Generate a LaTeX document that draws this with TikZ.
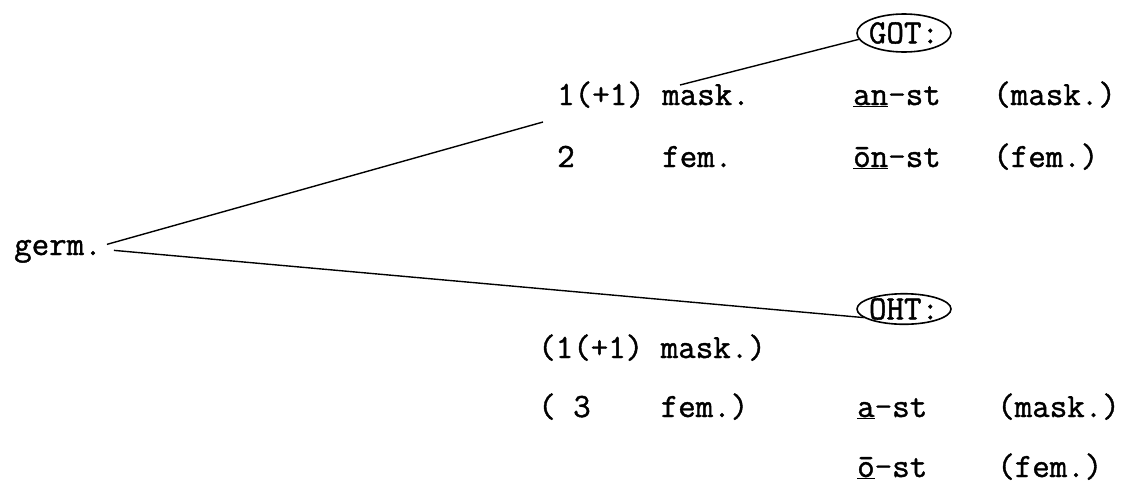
\documentclass[tikz,border=0pt]{standalone}
\usepackage{fontspec}
\setmonofont{Latin Modern Mono}[FakeBold=1.2]
\usetikzlibrary{shapes.geometric}
\newcommand\tyfont{\ttfamily\fontsize{34}{40}\selectfont}
\newcommand\ovaltext[1]{\makebox[58pt]{#1}}
\tikzset{
  txt/.style={anchor=base west, inner sep=0pt, font=\tyfont},
  oval/.style={draw, ellipse, line width=1.6pt, inner sep=0pt, minimum width=94pt, font=\tyfont},
  conn/.style={line width=1.4pt}
}
\begin{document}
\begin{tikzpicture}[x=1pt,y=-1pt]
\useasboundingbox (0,0) rectangle (1129,488);
% root
\node[txt] (germ) at (14,255) {germ.};
% upper block
\node[txt] (u1) at (557,105) {1(+1) mask.};
\node[txt] (u2) at (557,167) {2\ \ \ \ \ fem.};
\node[txt] (g1) at (853,105) {\underline{an}-st\ \ \ (mask.)};
\node[txt] (g2) at (853,167) {\underline{\=on}-st\ \ \ (fem.)};
\node[oval, minimum height=38pt] (GOT) at (904,33) {\ovaltext{GOT:}};
% lower block
\node[txt] (l1) at (538,358) {(1(+1) mask.)};
\node[txt] (l2) at (538,417) {(\ 3\ \ \ \ fem.)};
\node[txt] (o1) at (857,417) {\underline{a}-st\ \ \ \ (mask.)};
\node[txt] (o2) at (857,477) {\underline{\=o}-st\ \ \ \ (fem.)};
\node[oval, minimum height=30pt] (OHT) at (904,309) {\ovaltext{OHT:}};
% connectors
\coordinate (e1) at (543,122);
\coordinate (e3) at (680,85);
\draw[conn] ([xshift=5pt,yshift=7pt]germ.east) -- (e1);
\draw[conn] ([xshift=12pt,yshift=1pt]germ.east) -- (OHT.192);
\draw[conn] (e3) -- (GOT.188);
\end{tikzpicture}
\end{document}
